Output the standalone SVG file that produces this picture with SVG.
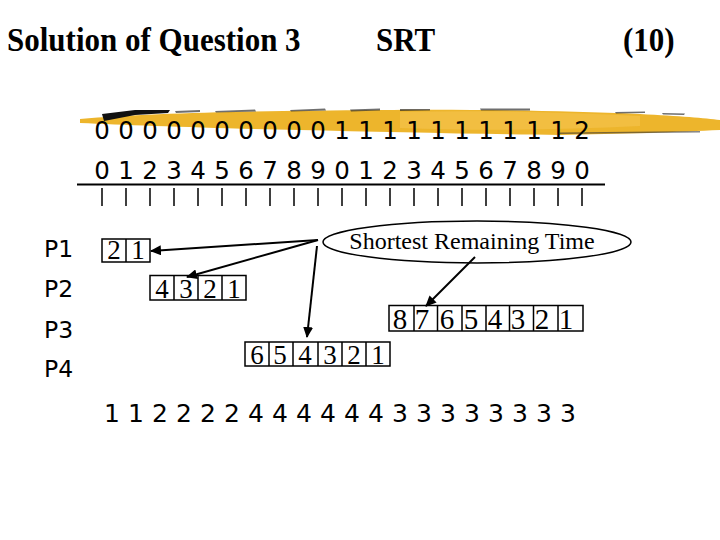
<svg xmlns="http://www.w3.org/2000/svg" width="720" height="540" viewBox="0 0 720 540">
<style>
.title{font-family:"Liberation Serif",serif;font-weight:bold;font-size:31px;fill:#000}
.dig{font-family:"DejaVu Sans",sans-serif;font-size:24.5px;fill:#000;text-anchor:middle}
.pl{font-family:"DejaVu Sans",sans-serif;font-size:23.5px;fill:#000}
.bx{fill:#fff;stroke:#000;stroke-width:1.5}
.bd{font-family:"Liberation Serif",serif;font-size:27px;fill:#000;text-anchor:middle}
.conn{stroke:#000;stroke-width:2;fill:none;marker-end:url(#ah)}
</style>
<defs>
<marker id="ah" markerUnits="userSpaceOnUse" markerWidth="12" markerHeight="10" refX="10" refY="5" orient="auto">
<path d="M0,0 L11,5 L0,10 z" fill="#000"/>
</marker>
</defs>
<rect width="720" height="540" fill="#fff"/>
<g id="title">
<text class="title" x="7" y="51" transform="translate(0,-5) scale(1,1.1)">Solution of Question 3</text>
<text class="title" x="376" y="51" transform="translate(0,-5) scale(1,1.1)">SRT</text>
<text class="title" x="623" y="51" transform="translate(0,-5) scale(1,1.1)">(10)</text>
</g>
<g id="brush">
<path d="M80,119 C150,113 250,111 380,110 C480,109 560,111 640,114 C680,116 705,118 720,120 L720,130 C680,132 620,134 560,135 C480,134 380,132 300,130 C200,128 130,125 80,123 Z" fill="#EDB52C"/>
<path d="M400,112 C480,110 560,112 640,116 L640,126 C560,130 480,131 400,128 Z" fill="#F3C24A" opacity="0.7"/>
<path d="M102,114 L135,110 L170,110 L168,113 L135,115 L104,121 Z" fill="#111"/>
<path d="M175,111 L200,110 L200,112 L176,113 Z M215,111 L255,109.5 L256,111.5 L216,112.5 Z M290,110 L325,108.5 L326,110.5 L291,111.5 Z M350,109.5 L380,108.5 L380,110.5 L351,111.5 Z M400,109 L430,109 L430,110.5 L400,111 Z M480,108.5 L530,108.5 L530,110.5 L481,110.5 Z M615,112 L645,111.5 L645,113 L616,113.5 Z M662,113 L685,113.5 L684,115 L663,114.5 Z" fill="#222" opacity="0.65"/>
<path d="M560,132.5 L700,131 L700,132.5 L560,134 Z" fill="#333" opacity="0.6"/>
</g>
<g id="axis">
<text class="dig" x="102 126 150 174 198 222 246 270 294 318 342 366 390 414 438 462 486 510 534 558 582" y="139">000000000011111111112</text>
<text class="dig" x="102 126 150 174 198 222 246 270 294 318 342 366 390 414 438 462 486 510 534 558 582" y="178.5">012345678901234567890</text>
<line x1="77" y1="184.5" x2="605" y2="184.5" stroke="#000" stroke-width="2"/>
<path d="M102,188V206M126,188V206M150,188V206M174,188V206M198,188V206M222,188V206M246,188V206M270,188V206M294,188V206M318,188V206M342,188V206M366,188V206M390,188V206M414,188V206M438,188V206M462,188V206M486,188V206M510,188V206M534,188V206M558,188V206M582,188V206" stroke="#000" stroke-width="1.5"/>
</g>
<g id="labels">
<text class="pl" x="44" y="257">P1</text>
<text class="pl" x="44" y="297">P2</text>
<text class="pl" x="44" y="338">P3</text>
<text class="pl" x="44" y="377">P4</text>
</g>
<g id="p1box">
<rect class="bx" x="102" y="239" width="48" height="23"/>
<line x1="126" y1="239" x2="126" y2="262" stroke="#000" stroke-width="1.5"/>
<text class="bd" x="114 138" y="258.5">21</text>
</g>
<g id="p2box">
<rect class="bx" x="150" y="275.5" width="96" height="24.5"/>
<path d="M174,275.5V300M198,275.5V300M222,275.5V300" stroke="#000" stroke-width="1.5"/>
<text class="bd" x="162 186 210 234" y="297.5">4321</text>
</g>
<g id="p3box">
<rect class="bx" x="389" y="305.5" width="194" height="25.5"/>
<path d="M414,305.5V331M437.5,305.5V331M462,305.5V331M486,305.5V331M509.5,305.5V331M533.5,305.5V331M558,305.5V331" stroke="#000" stroke-width="1.5"/>
<text class="bd" style="font-size:29px" x="400 422 447 471 495 518 542 566" y="329">87654321</text>
</g>
<g id="p4box">
<rect class="bx" x="245" y="342" width="145" height="24"/>
<path d="M269,342V366M293,342V366M318,342V366M342,342V366M366,342V366" stroke="#000" stroke-width="1.5"/>
<text class="bd" x="257 280 305 330 354 378" y="363.5">654321</text>
</g>
<g id="srt">
<ellipse cx="477" cy="242" rx="154" ry="21" fill="#fff" stroke="#000" stroke-width="1.5"/>
<text x="472" y="249" font-family="Liberation Serif, serif" font-size="24" text-anchor="middle" fill="#000">Shortest Remaining Time</text>
</g>
<g id="sequence">
<text class="dig" style="font-size:25px" x="112 136 160 184 208 232 256 280 304 328 352 376 400 424 448 472 496 520 544 568" y="422">11222244444433333333</text>
</g>
<g id="connectors">
<line class="conn" x1="318" y1="240" x2="151" y2="251"/>
<line class="conn" x1="318" y1="240" x2="187" y2="277"/>
<line class="conn" x1="317" y1="246" x2="307" y2="337"/>
<line class="conn" x1="475" y1="257" x2="426" y2="306"/>
</g>
</svg>
